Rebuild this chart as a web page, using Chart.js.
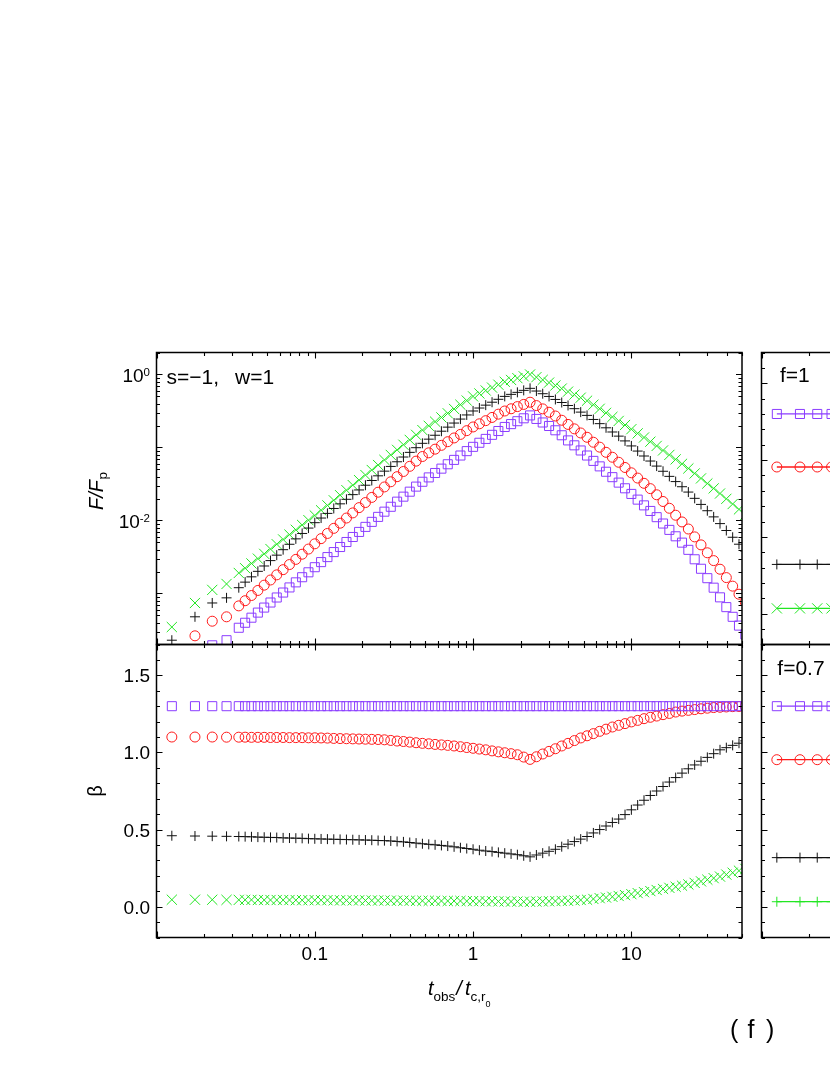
<!DOCTYPE html>
<html>
<head>
<meta charset="utf-8">
<script src="https://cdn.jsdelivr.net/npm/chart.js@4.4.1/dist/chart.umd.min.js"></script>
<style>
  html, body { margin: 0; padding: 0; background: #fff; overflow: hidden; }
  #page { position: relative; width: 830px; height: 1075px; overflow: hidden; background: #fff; }
  canvas { position: absolute; left: 0; top: 0; }
</style>
</head>
<body>
<div id="page">
  <canvas id="flux-chart" width="830" height="1075"></canvas>
  <canvas id="beta-chart" width="830" height="1075"></canvas>
  <canvas id="f1-chart" width="1400" height="1075"></canvas>
  <canvas id="f07-chart" width="1400" height="1075"></canvas>
</div>
<script>
// t_obs / t_c,r0 sample times (shared by every series)
const tRatio = [0.0125, 0.0175, 0.0225, 0.0277,
  0.0331, 0.0363, 0.0398, 0.0437, 0.0479, 0.0525, 0.0575, 0.0631, 0.0692, 0.0759, 0.0832, 0.0912,
  0.100, 0.1096, 0.1202, 0.1318, 0.1445, 0.1585, 0.1738, 0.1905, 0.2089, 0.2291, 0.2512, 0.2754, 0.3020,
  0.3311, 0.3631, 0.3981, 0.4365, 0.4786, 0.5248, 0.5754, 0.6310, 0.6918, 0.7586, 0.8318, 0.9120,
  1.000, 1.096, 1.202, 1.318, 1.445, 1.585, 1.738, 1.905, 2.089, 2.291, 2.512, 2.754, 3.020,
  3.311, 3.631, 3.981, 4.365, 4.786, 5.248, 5.754, 6.310, 6.918, 7.586, 8.318, 9.120,
  10.00, 10.96, 12.02, 13.18, 14.45, 15.85, 17.38, 19.05, 20.89, 22.91, 25.12, 27.54, 30.20,
  33.11, 36.31, 39.81, 43.65, 47.86, 52.48];

// F/Fp, top left panel
const fluxCross = [3.47e-4, 7.41e-4, 1.12e-3, 1.35e-3,
  1.91e-3, 2.22e-3, 2.58e-3, 3.00e-3, 3.49e-3, 4.06e-3, 4.73e-3, 5.50e-3, 6.40e-3, 7.45e-3, 8.67e-3, 1.01e-2,
  1.17e-2, 1.38e-2, 1.61e-2, 1.89e-2, 2.22e-2, 2.60e-2, 3.05e-2, 3.57e-2, 4.19e-2, 4.91e-2,
  5.75e-2, 6.75e-2, 7.91e-2, 9.27e-2, 0.109, 0.127, 0.149, 0.173, 0.198, 0.226, 0.258, 0.294, 0.337, 0.385, 0.439,
  0.501, 0.550, 0.603, 0.661, 0.724, 0.794, 0.841, 0.891, 0.944, 1.0, 0.918, 0.843, 0.774, 0.706, 0.641,
  0.582, 0.530, 0.481, 0.437, 0.385, 0.339, 0.298, 0.262, 0.231, 0.203,
  0.178, 0.156, 0.137, 0.120, 0.105, 9.10e-2, 7.91e-2, 6.87e-2, 5.97e-2, 5.16e-2,
  4.41e-2, 3.77e-2, 3.21e-2, 2.75e-2, 2.34e-2, 1.98e-2, 1.68e-2, 1.42e-2, 1.20e-2];
const fluxPlus = [2.29e-4, 4.79e-4, 7.41e-4, 8.71e-4,
  1.20e-3, 1.43e-3, 1.69e-3, 2.01e-3, 2.38e-3, 2.82e-3, 3.35e-3, 3.98e-3, 4.72e-3, 5.60e-3, 6.64e-3, 7.87e-3,
  9.33e-3, 1.08e-2, 1.25e-2, 1.46e-2, 1.69e-2, 1.95e-2, 2.26e-2, 2.62e-2, 3.04e-2, 3.53e-2,
  4.09e-2, 4.74e-2, 5.50e-2, 6.37e-2, 7.40e-2, 8.57e-2, 9.93e-2, 0.114, 0.130, 0.147, 0.167, 0.190, 0.216, 0.245, 0.279,
  0.316, 0.347, 0.380, 0.417, 0.457, 0.501, 0.534, 0.569, 0.606, 0.646, 0.593, 0.545, 0.500, 0.455, 0.413,
  0.376, 0.340, 0.305, 0.275, 0.242, 0.212, 0.186, 0.163, 0.143, 0.123,
  0.105, 8.93e-2, 7.64e-2, 6.52e-2, 5.56e-2, 4.72e-2, 4.02e-2, 3.41e-2, 2.90e-2, 2.45e-2,
  2.01e-2, 1.66e-2, 1.36e-2, 1.12e-2, 9.06e-3, 7.29e-3, 5.89e-3, 4.73e-3, 3.80e-3];
const fluxCircle = [1.26e-4, 2.63e-4, 4.17e-4, 4.79e-4,
  6.76e-4, 7.96e-4, 9.38e-4, 1.10e-3, 1.30e-3, 1.53e-3, 1.80e-3, 2.12e-3, 2.49e-3, 2.93e-3, 3.45e-3, 4.06e-3,
  4.79e-3, 5.64e-3, 6.64e-3, 7.80e-3, 9.18e-3, 1.08e-2, 1.27e-2, 1.50e-2, 1.76e-2, 2.07e-2,
  2.44e-2, 2.88e-2, 3.39e-2, 3.98e-2, 4.69e-2, 5.52e-2, 6.50e-2, 7.52e-2, 8.45e-2, 9.48e-2, 0.107, 0.120, 0.135, 0.151, 0.170,
  0.191, 0.211, 0.233, 0.258, 0.286, 0.316, 0.339, 0.363, 0.389, 0.417, 0.375, 0.338, 0.304, 0.270, 0.236,
  0.207, 0.180, 0.158, 0.138, 0.118, 0.101, 8.59e-2, 7.35e-2, 6.27e-2, 5.32e-2,
  4.50e-2, 3.81e-2, 3.23e-2, 2.73e-2, 2.25e-2, 1.82e-2, 1.47e-2, 1.18e-2, 9.55e-3, 7.64e-3,
  5.96e-3, 4.63e-3, 3.61e-3, 2.82e-3, 2.15e-3, 1.65e-3, 1.26e-3, 9.77e-4, 7.59e-4];
const fluxSquare = [6.31e-5, 1.12e-4, 1.95e-4, 2.29e-4,
  3.39e-4, 3.97e-4, 4.66e-4, 5.47e-4, 6.41e-4, 7.52e-4, 8.81e-4, 1.03e-3, 1.21e-3, 1.42e-3, 1.67e-3, 1.95e-3,
  2.29e-3, 2.69e-3, 3.15e-3, 3.69e-3, 4.33e-3, 5.07e-3, 5.94e-3, 6.97e-3, 8.17e-3, 9.57e-3,
  1.12e-2, 1.32e-2, 1.54e-2, 1.81e-2, 2.12e-2, 2.48e-2, 2.91e-2, 3.39e-2, 3.89e-2, 4.47e-2, 5.13e-2, 5.89e-2, 6.76e-2, 7.76e-2, 8.91e-2,
  0.102, 0.116, 0.131, 0.149, 0.168, 0.191, 0.209, 0.229, 0.251, 0.275, 0.246, 0.220, 0.197, 0.172, 0.147,
  0.125, 0.107, 9.10e-2, 7.76e-2, 6.55e-2, 5.51e-2, 4.65e-2, 3.92e-2, 3.30e-2, 2.76e-2,
  2.31e-2, 1.93e-2, 1.61e-2, 1.35e-2, 1.11e-2, 9.08e-3, 7.43e-3, 6.07e-3, 4.97e-3, 3.96e-3,
  2.94e-3, 2.18e-3, 1.62e-3, 1.20e-3, 8.85e-4, 6.50e-4, 4.79e-4, 3.63e-4, 2.75e-4];

// beta, bottom left panel
const betaSquare = [1.3, 1.3, 1.3, 1.3,
  1.3, 1.3, 1.3, 1.3, 1.3, 1.3, 1.3, 1.3, 1.3, 1.3, 1.3, 1.3,
  1.3, 1.3, 1.3, 1.3, 1.3, 1.3, 1.3, 1.3, 1.3, 1.3, 1.3, 1.3, 1.3, 1.3, 1.3, 1.3, 1.3, 1.3, 1.3, 1.3, 1.3, 1.3, 1.3, 1.3, 1.3,
  1.3, 1.3, 1.3, 1.3, 1.3, 1.3, 1.3, 1.3, 1.3, 1.3, 1.3, 1.3, 1.3, 1.3, 1.3, 1.3, 1.3, 1.3, 1.3, 1.3, 1.3, 1.3, 1.3, 1.3, 1.3,
  1.3, 1.3, 1.3, 1.3, 1.3, 1.3, 1.3, 1.3, 1.3, 1.3, 1.3, 1.3, 1.3, 1.3, 1.3, 1.3, 1.3, 1.3, 1.3];
const betaCircle = [1.100, 1.100, 1.100, 1.099,
  1.099, 1.099, 1.098, 1.098, 1.098, 1.097, 1.097, 1.097, 1.096, 1.096, 1.096, 1.095,
  1.095, 1.094, 1.093, 1.091, 1.090, 1.089, 1.088, 1.087, 1.086, 1.085, 1.084, 1.082, 1.078,
  1.074, 1.071, 1.067, 1.063, 1.059, 1.056, 1.052, 1.049, 1.046, 1.042, 1.037, 1.032,
  1.027, 1.022, 1.017, 1.010, 1.004, 0.998, 0.992, 0.985, 0.970, 0.955, 0.972, 0.990, 1.007,
  1.024, 1.042, 1.059, 1.077, 1.094, 1.108, 1.122, 1.137, 1.151, 1.165, 1.176, 1.187,
  1.198, 1.208, 1.219, 1.228, 1.236, 1.245, 1.253, 1.262, 1.268, 1.273,
  1.278, 1.283, 1.287, 1.291, 1.293, 1.295, 1.297, 1.298, 1.300];
const betaPlus = [0.460, 0.458, 0.457, 0.456,
  0.455, 0.454, 0.453, 0.451, 0.450, 0.449, 0.448, 0.446, 0.445, 0.444, 0.443, 0.441,
  0.440, 0.439, 0.438, 0.437, 0.436, 0.435, 0.434, 0.433, 0.432, 0.431, 0.429, 0.428, 0.426,
  0.423, 0.420, 0.416, 0.412, 0.408, 0.404, 0.401, 0.397, 0.393, 0.388, 0.382, 0.377,
  0.372, 0.366, 0.361, 0.357, 0.352, 0.347, 0.342, 0.337, 0.330, 0.323, 0.335, 0.347, 0.359,
  0.372, 0.389, 0.405, 0.422, 0.438, 0.455, 0.478, 0.500, 0.523, 0.546, 0.568, 0.597,
  0.628, 0.659, 0.690, 0.721, 0.750, 0.779, 0.808, 0.837, 0.866, 0.894,
  0.919, 0.943, 0.968, 0.992, 1.017, 1.031, 1.046, 1.060, 1.075];
const betaCross = [0.045, 0.045, 0.045, 0.044,
  0.044, 0.044, 0.044, 0.043, 0.043, 0.043, 0.043, 0.043, 0.043, 0.042, 0.042, 0.042,
  0.042, 0.042, 0.042, 0.041, 0.041, 0.041, 0.041, 0.041, 0.040, 0.040, 0.040, 0.040, 0.039,
  0.039, 0.039, 0.039, 0.038, 0.038, 0.038, 0.038, 0.037, 0.037, 0.037, 0.037, 0.036,
  0.036, 0.036, 0.035, 0.035, 0.034, 0.034, 0.033, 0.033, 0.032, 0.032, 0.033, 0.034, 0.035,
  0.036, 0.037, 0.038, 0.040, 0.043, 0.045, 0.050, 0.055, 0.059, 0.064, 0.069, 0.075,
  0.081, 0.088, 0.094, 0.101, 0.108, 0.115, 0.122, 0.129, 0.136, 0.144,
  0.154, 0.164, 0.175, 0.185, 0.195, 0.208, 0.220, 0.233, 0.245];

// right hand panels (only their left strip is in view)
const f1Square = [1.30, 1.30, 1.30, 1.30, 1.30, 1.30, 1.30, 1.30];
const f1Circle = [0.955, 0.955, 0.955, 0.955, 0.955, 0.955, 0.955, 0.955];
const f1Plus = [0.321, 0.321, 0.321, 0.321, 0.321, 0.321, 0.321, 0.321];
const f1Cross = [0.035, 0.035, 0.035, 0.035, 0.035, 0.035, 0.035, 0.035];
const f07Square = [1.30, 1.30, 1.30, 1.30, 1.30, 1.30, 1.30, 1.30];
const f07Circle = [0.953, 0.953, 0.953, 0.953, 0.953, 0.953, 0.953, 0.953];
const f07Plus = [0.318, 0.318, 0.318, 0.318, 0.318, 0.318, 0.318, 0.318];
const f07Green = [0.032, 0.032, 0.032, 0.032, 0.032, 0.032, 0.032, 0.032];

// tick labels
const xTickValues = [0.1, 1, 10];
const xTickLabels = ['0.1', '1', '10'];
const fluxTickValues = [1, 0.01];
const fluxTickPowers = ['0', '-2'];
const betaTickValues = [0, 0.5, 1, 1.5];
const betaTickLabels = ['0.0', '0.5', '1.0', '1.5'];

const FONT = '"Liberation Sans", Arial, sans-serif';
const PURPLE = '#8b3dff';
const RED = '#ff1a1a';
const BLACK = '#111111';
const GREEN = '#22e622';

const LEFT = 156.5, RIGHT = 742, TOP = 352.5, MID = 644.5, BOTTOM = 937.5;
const R_LEFT = 761.5, R_RIGHT = 761.5 + 585.5;

const marker = (ys, style, color, radius, showLine) => ({
  data: ys.map((v, i) => ({ x: tRatio[i], y: v })),
  pointStyle: style,
  pointRadius: radius,
  pointHoverRadius: radius,
  pointBorderWidth: 1,
  pointBorderColor: color,
  pointBackgroundColor: 'rgba(0,0,0,0)',
  borderColor: color,
  borderWidth: 1.3,
  showLine: showLine,
  clip: 0
});

// inward ticks on all four sides + frame
const axisFrame = (yKind) => ({
  id: 'axisFrame',
  afterDatasetsDraw(chart) {
    const { ctx, chartArea: a } = chart;
    const x = chart.scales.x, y = chart.scales.y;
    ctx.save();
    ctx.strokeStyle = '#000';
    ctx.lineWidth = 1.1;
    ctx.beginPath();
    for (let d = -2; d <= 1; d++) {
      for (let m = 1; m <= 9; m++) {
        const v = m * Math.pow(10, d);
        if (v < x.min * 0.999 || v > x.max * 1.001) continue;
        const px = Math.round(x.getPixelForValue(v)) + 0.5;
        const len = m === 1 ? 6 : 3.5;
        ctx.moveTo(px, a.top); ctx.lineTo(px, a.top + len);
        ctx.moveTo(px, a.bottom); ctx.lineTo(px, a.bottom - len);
      }
    }
    const yTick = (v, len) => {
      const py = Math.round(y.getPixelForValue(v)) + 0.5;
      ctx.moveTo(a.left, py); ctx.lineTo(a.left + len, py);
      ctx.moveTo(a.right, py); ctx.lineTo(a.right - len, py);
    };
    if (yKind === 'logarithmic') {
      for (let d = -4; d <= 0; d++) {
        for (let m = 1; m <= 9; m++) {
          const v = m * Math.pow(10, d);
          if (v < y.min * 0.999 || v > y.max * 1.001) continue;
          yTick(v, m === 1 ? 6 : 3.5);
        }
      }
    } else {
      for (let k = -2; k <= 17; k++) yTick(k / 10, k % 5 === 0 ? 6 : 3.5);
    }
    ctx.stroke();
    ctx.lineWidth = 1.5;
    ctx.strokeRect(a.left, a.top, a.right - a.left, a.bottom - a.top);
    ctx.restore();
  }
});

function makePanel(id, box, yOpts, datasets, labels) {
  const canvas = document.getElementById(id);
  const w = canvas.width, h = canvas.height;
  return new Chart(canvas, {
    type: 'scatter',
    data: { datasets: datasets },
    options: {
      responsive: false,
      animation: false,
      events: [],
      layout: { padding: { left: box.left, top: box.top, right: w - box.right, bottom: h - box.bottom } },
      scales: {
        x: { type: 'logarithmic', min: 0.01, max: 50, display: false },
        y: Object.assign({ display: false }, yOpts)
      },
      plugins: { legend: { display: false }, tooltip: { enabled: false } }
    },
    plugins: [axisFrame(yOpts.type), labels]
  });
}

const fluxLabels = {
  id: 'fluxLabels',
  afterDraw(chart) {
    const ctx = chart.ctx, y = chart.scales.y;
    ctx.save();
    ctx.fillStyle = '#000';
    ctx.textBaseline = 'alphabetic';
    ctx.textAlign = 'right';
    fluxTickValues.forEach((v, i) => {
      const py = y.getPixelForValue(v);
      ctx.font = '11.5px ' + FONT;
      const sw = ctx.measureText(fluxTickPowers[i]).width;
      ctx.fillText(fluxTickPowers[i], 150, py + 1.5);
      ctx.font = '19px ' + FONT;
      ctx.fillText('10', 150 - sw, py + 8);
    });
    ctx.textAlign = 'left';
    ctx.font = '21px ' + FONT;
    ctx.fillText('s=\u22121,', 166.5, 383.5);
    ctx.fillText('w=1', 235, 383.5);
    ctx.translate(102.5, 510);
    ctx.rotate(-Math.PI / 2);
    ctx.font = 'italic 20px ' + FONT;
    ctx.fillText('F/F', 0, 0);
    const fw = ctx.measureText('F/F').width;
    ctx.font = '13.5px ' + FONT;
    ctx.fillText('p', fw + 0.5, 4.5);
    ctx.restore();
  }
};

const betaLabels = {
  id: 'betaLabels',
  afterDraw(chart) {
    const ctx = chart.ctx, x = chart.scales.x, y = chart.scales.y;
    ctx.save();
    ctx.fillStyle = '#000';
    ctx.textBaseline = 'alphabetic';
    ctx.font = '19px ' + FONT;
    ctx.textAlign = 'right';
    betaTickValues.forEach((v, i) => ctx.fillText(betaTickLabels[i], 150, y.getPixelForValue(v) + 7));
    ctx.textAlign = 'center';
    xTickValues.forEach((v, i) => ctx.fillText(xTickLabels[i], x.getPixelForValue(v), 959.5));

    // x axis title  t_obs / t_c,r0
    ctx.textAlign = 'left';
    let cx = 428;
    const piece = (txt, font, dy, gap) => {
      ctx.font = font;
      ctx.fillText(txt, cx, 995 + dy);
      cx += ctx.measureText(txt).width + (gap || 0);
    };
    piece('t', 'italic 20px ' + FONT, 0);
    piece('obs', '13.5px ' + FONT, 6, 1);
    piece('/', 'italic 20px ' + FONT, 0, 3);
    piece('t', 'italic 20px ' + FONT, 0);
    piece('c,r', '13.5px ' + FONT, 6);
    piece('0', '9px ' + FONT, 12);

    ctx.font = '25px ' + FONT;
    ctx.fillText('(', 730, 1038);
    ctx.fillText('f', 747.5, 1038);
    ctx.fillText(')', 766, 1038);

    ctx.translate(102, 791);
    ctx.rotate(-Math.PI / 2);
    ctx.textAlign = 'center';
    ctx.font = '20px ' + FONT;
    ctx.fillText('\u03b2', 0, 0);
    ctx.restore();
  }
};

const noteLabel = (text, tx, ty) => ({
  id: 'noteLabel',
  afterDraw(chart) {
    const ctx = chart.ctx;
    ctx.save();
    ctx.fillStyle = '#000';
    ctx.font = '21px ' + FONT;
    ctx.textAlign = 'left';
    ctx.textBaseline = 'alphabetic';
    ctx.fillText(text, tx, ty);
    ctx.restore();
  }
});

const fluxChart = makePanel('flux-chart',
  { left: LEFT, top: TOP, right: RIGHT, bottom: MID },
  { type: 'logarithmic', min: 2e-4, max: 2 },
  [
    marker(fluxSquare, 'rect', PURPLE, 6.4, false),
    marker(fluxCircle, 'circle', RED, 5, false),
    marker(fluxPlus, 'cross', BLACK, 5, false),
    marker(fluxCross, 'crossRot', GREEN, 7.2, false)
  ],
  fluxLabels);

const betaChart = makePanel('beta-chart',
  { left: LEFT, top: MID, right: RIGHT, bottom: BOTTOM },
  { type: 'linear', min: -0.2, max: 1.7 },
  [
    marker(betaSquare, 'rect', PURPLE, 6.4, false),
    marker(betaCircle, 'circle', RED, 5, false),
    marker(betaPlus, 'cross', BLACK, 5, false),
    marker(betaCross, 'crossRot', GREEN, 7.2, false)
  ],
  betaLabels);

const f1Chart = makePanel('f1-chart',
  { left: R_LEFT, top: TOP, right: R_RIGHT, bottom: MID },
  { type: 'linear', min: -0.2, max: 1.7 },
  [
    marker(f1Square, 'rect', PURPLE, 6.4, true),
    marker(f1Circle, 'circle', RED, 5, true),
    marker(f1Plus, 'cross', BLACK, 5, true),
    marker(f1Cross, 'crossRot', GREEN, 7.2, true)
  ],
  noteLabel('f=1', 780, 381.7));

const f07Chart = makePanel('f07-chart',
  { left: R_LEFT, top: MID, right: R_RIGHT, bottom: BOTTOM },
  { type: 'linear', min: -0.2, max: 1.7 },
  [
    marker(f07Square, 'rect', PURPLE, 6.4, true),
    marker(f07Circle, 'circle', RED, 5, true),
    marker(f07Plus, 'cross', BLACK, 5, true),
    marker(f07Green, 'cross', GREEN, 5, true)
  ],
  noteLabel('f=0.7', 777.3, 675));
</script>
</body>
</html>
